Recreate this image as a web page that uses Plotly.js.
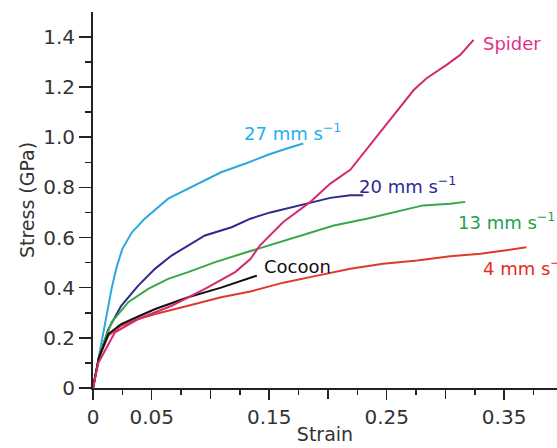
<!DOCTYPE html>
<html>
<head>
<meta charset="utf-8">
<script src="https://cdn.plot.ly/plotly-3.0.1.min.js"></script>
<style>html,body{margin:0;padding:0;background:#fff;}#chart{width:557px;height:448px;}</style>
</head>
<body>
<div id="chart"></div>
<script>
// Series: strain (x) and stress in GPa (y)
const seriesNames = ["27 mm s<sup>−1</sup>", "20 mm s<sup>−1</sup>", "13 mm s<sup>−1</sup>", "4 mm s<sup>−1</sup>", "Cocoon", "Spider"];

const x27 = [0, 0.004, 0.008, 0.012, 0.016, 0.02, 0.025, 0.033, 0.044, 0.064, 0.081, 0.109, 0.13, 0.149, 0.165, 0.179];
const y27 = [0, 0.10, 0.20, 0.30, 0.40, 0.48, 0.555, 0.62, 0.675, 0.755, 0.795, 0.86, 0.895, 0.93, 0.955, 0.975];

const x20 = [0, 0.005, 0.013, 0.024, 0.0385, 0.0527, 0.0669, 0.081, 0.0953, 0.118, 0.134, 0.151, 0.168, 0.185, 0.202, 0.219, 0.230];
const y20 = [0, 0.12, 0.234, 0.328, 0.408, 0.475, 0.528, 0.568, 0.608, 0.641, 0.675, 0.70, 0.72, 0.74, 0.758, 0.768, 0.768];

const x13 = [0, 0.006, 0.0158, 0.030, 0.047, 0.064, 0.081, 0.104, 0.1265, 0.149, 0.176, 0.205, 0.233, 0.2615, 0.281, 0.304, 0.317];
const y13 = [0, 0.14, 0.262, 0.342, 0.395, 0.435, 0.462, 0.502, 0.535, 0.568, 0.608, 0.648, 0.675, 0.708, 0.728, 0.735, 0.742];

const x4 = [0, 0.005, 0.013, 0.024, 0.0385, 0.053, 0.081, 0.109, 0.134, 0.162, 0.191, 0.219, 0.247, 0.276, 0.304, 0.330, 0.350, 0.369];
const y4 = [0, 0.12, 0.208, 0.248, 0.275, 0.295, 0.328, 0.362, 0.385, 0.42, 0.448, 0.475, 0.495, 0.508, 0.525, 0.535, 0.548, 0.561];

const xCocoon = [0, 0.005, 0.013, 0.024, 0.0385, 0.053, 0.081, 0.109, 0.1395];
const yCocoon = [0, 0.12, 0.215, 0.255, 0.285, 0.315, 0.362, 0.40, 0.448];

const xSpider = [0, 0.0045, 0.0187, 0.0385, 0.067, 0.0953, 0.121, 0.134, 0.142, 0.149, 0.162, 0.185, 0.202, 0.219, 0.2275, 0.240, 0.256, 0.273, 0.284, 0.301, 0.3126, 0.324];
const ySpider = [0, 0.10, 0.222, 0.275, 0.328, 0.395, 0.462, 0.514, 0.568, 0.60, 0.662, 0.742, 0.815, 0.87, 0.92, 0.995, 1.088, 1.188, 1.235, 1.288, 1.328, 1.388];

const yTickVals = [0, 0.2, 0.4, 0.6, 0.8, 1.0, 1.2, 1.4];
const yTickText = ["0", "0.2", "0.4", "0.6", "0.8", "1.0", "1.2", "1.4"];
const xTickVals = [0, 0.05, 0.15, 0.25, 0.35];
const xTickText = ["0", "0.05", "0.15", "0.25", "0.35"];
const xUnlabeledTickVals = [0.1, 0.2, 0.3];

const lineColors = ["#2aa8e0", "#2e2a8c", "#3aa64a", "#e0392c", "#111111", "#d42a72"];
const labelColors = ["#1fb0f0", "#2a2a9a", "#1fa04f", "#e82a20", "#111111", "#e0308a"];

const xs = [x27, x20, x13, x4, xCocoon, xSpider];
const ys = [y27, y20, y13, y4, yCocoon, ySpider];

const traces = xs.map((xv, i) => ({
  x: xv, y: ys[i], type: "scatter", mode: "lines",
  line: {color: lineColors[i], width: 2},
  name: seriesNames[i], showlegend: false, hoverinfo: "skip"
}));
// carrier for the unlabeled major-tick axis
traces.push({x: [0], y: [0], xaxis: "x2", type: "scatter", mode: "lines",
  line: {width: 0}, showlegend: false, hoverinfo: "skip"});

// label anchor points (data coords)
const labelX = [0.127, 0.225, 0.309, 0.330, 0.144, 0.330];
const labelY = [1.02, 0.811, 0.667, 0.483, 0.483, 1.375];

const annotations = seriesNames.map((t, i) => ({
  x: labelX[i], y: labelY[i], xref: "x", yref: "y",
  text: t, showarrow: false, xanchor: "left", yanchor: "middle",
  font: {family: "DejaVu Sans", size: 18, color: labelColors[i]}
}));

const tickFont = {family: "DejaVu Sans", size: 20, color: "#333"};
const xRange = [0, 0.395];

const layout = {
  width: 557, height: 448,
  margin: {l: 92.5, r: 0, t: 12, b: 60},
  paper_bgcolor: "#fff", plot_bgcolor: "#fff",
  showlegend: false,
  font: {family: "DejaVu Sans", color: "#333"},
  xaxis: {
    range: xRange, showgrid: false, zeroline: false,
    showline: true, linecolor: "#222", linewidth: 2,
    ticks: "outside", ticklen: 10, tickwidth: 1.5, tickcolor: "#222",
    tickmode: "array", tickvals: xTickVals, ticktext: xTickText,
    tickfont: tickFont,
    minor: {tickmode: "linear", tick0: 0, dtick: 0.025, ticks: "outside", ticklen: 5, tickwidth: 1.5, tickcolor: "#222"},
    title: {text: "Strain", font: {family: "DejaVu Sans", size: 19, color: "#333"}, standoff: 0},
    automargin: false, fixedrange: true
  },
  xaxis2: {
    range: xRange, overlaying: "x", side: "bottom", anchor: "y",
    showgrid: false, zeroline: false, showline: false,
    ticks: "outside", ticklen: 10, tickwidth: 1.5, tickcolor: "#222",
    tickmode: "array", tickvals: xUnlabeledTickVals, showticklabels: false,
    automargin: false, fixedrange: true
  },
  yaxis: {
    range: [0, 1.499], showgrid: false, zeroline: false,
    showline: true, linecolor: "#222", linewidth: 2,
    ticks: "outside", ticklen: 12, tickwidth: 1.5, tickcolor: "#222",
    tickmode: "array", tickvals: yTickVals, ticktext: yTickText,
    tickfont: tickFont,
    minor: {tickmode: "linear", tick0: 0, dtick: 0.1, ticks: "outside", ticklen: 6, tickwidth: 1.5, tickcolor: "#222"},
    title: {text: "Stress (GPa)", font: {family: "DejaVu Sans", size: 19, color: "#333"}, standoff: 4},
    automargin: false, fixedrange: true
  },
  annotations: annotations
};

Plotly.newPlot("chart", traces, layout, {displayModeBar: false, staticPlot: true});
</script>
</body>
</html>
